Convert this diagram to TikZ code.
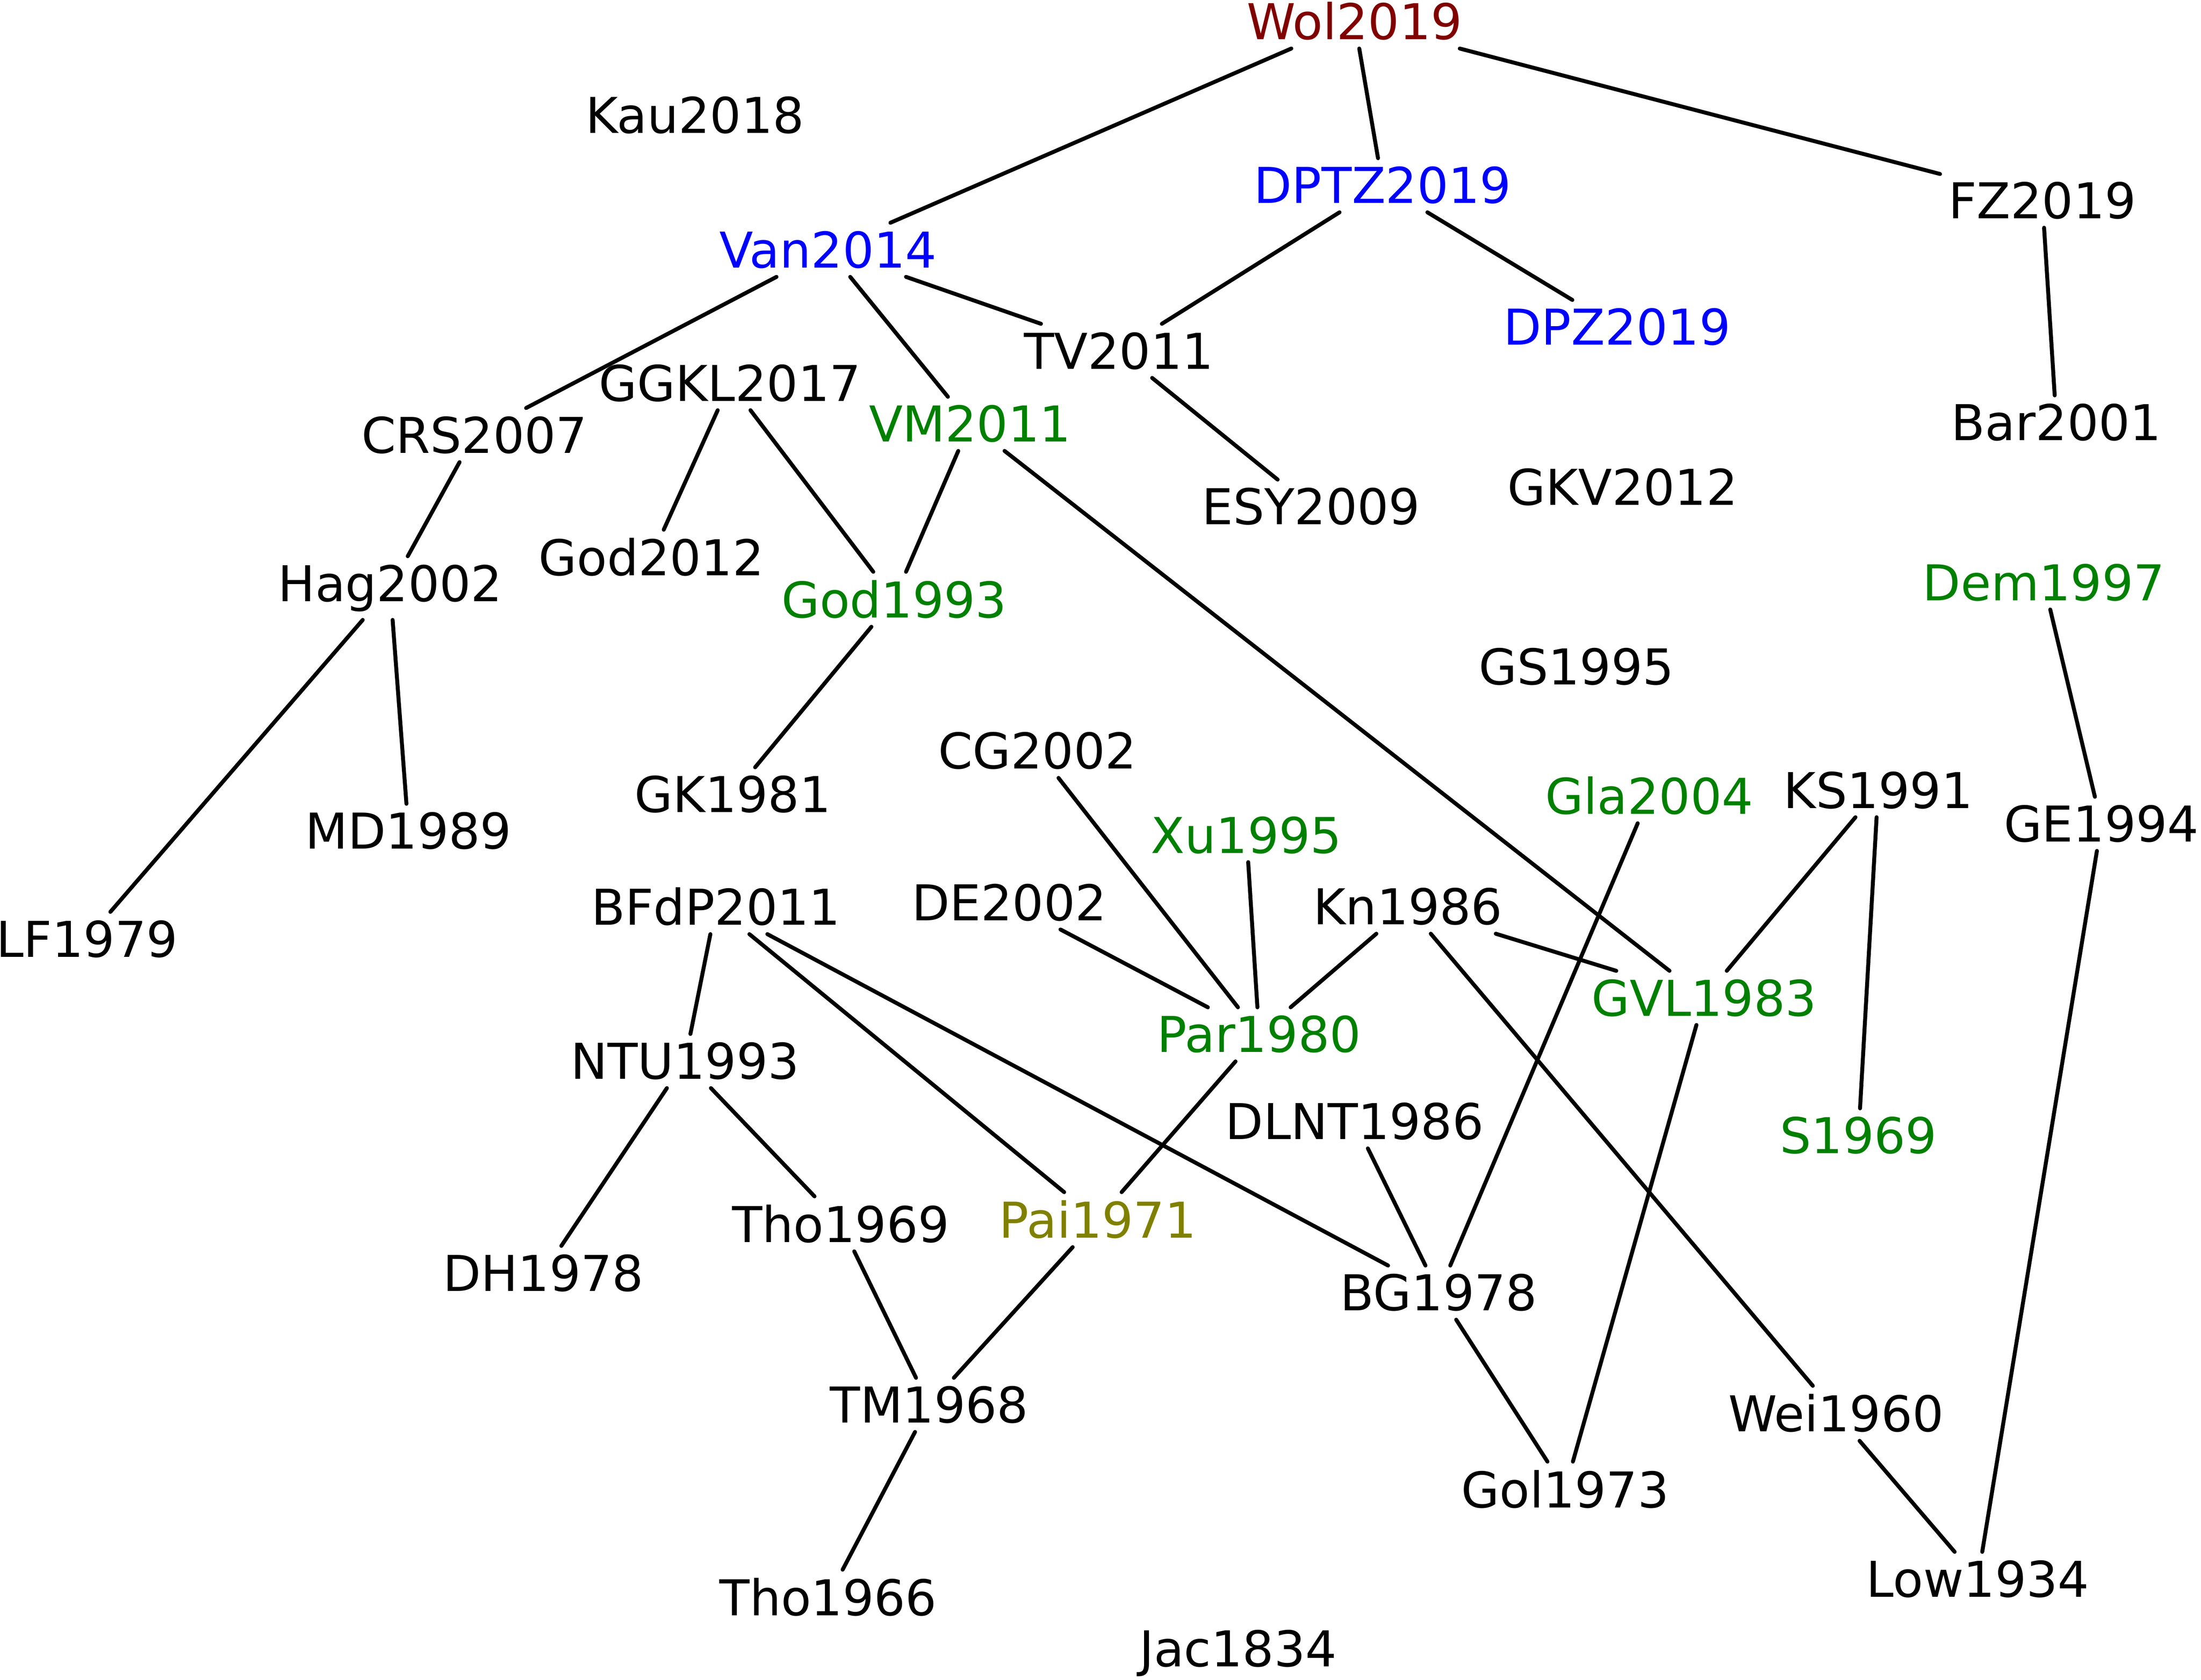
\documentclass[tikz,border=0pt]{standalone}
\usepackage{fontspec}
\setmainfont{DejaVu Sans}
\definecolor{refred}{RGB}{128,0,0}
\definecolor{refgreen}{RGB}{0,128,0}
\definecolor{refolive}{RGB}{128,128,0}
\begin{document}
\begin{tikzpicture}[
	x=0.01cm,
	y=-0.01cm,
	line join=round,
	line cap=round,
	every node/.style={font=\fontsize{10}{12}\selectfont, inner sep=1.5pt},
	blu/.style={text=blue},
	grn/.style={text=refgreen},
	]
\useasboundingbox (0,0) rectangle (1568,1197);
\node[text=refred] (wol) at (965,15) {Wol2019};
\node (kau) at (495,82) {Kau2018};
\node[blu] (dptz) at (985,132) {DPTZ2019};
\node (fz) at (1455,143) {FZ2019};
\node[blu] (van) at (590,178) {Van2014};
\node[blu] (dpz) at (1152,233) {DPZ2019};
\node (tv) at (797,250) {TV2011};
\node (ggkl) at (520,273) {GGKL2017};
\node (crs) at (338,310) {CRS2007};
\node[grn] (vm) at (691,302) {VM2011};
\node (bar) at (1465,301) {Bar2001};
\node (gkv) at (1156,347) {GKV2012};
\node (esy) at (934,361) {ESY2009};
\node (godb) at (464,397) {God2012};
\node (hag) at (278,419) {Hag2002};
\node[grn] (goda) at (637,427) {God1993};
\node[grn] (dem) at (1456,415) {Dem1997};
\node (gs) at (1123,475) {GS1995};
\node (cg) at (739,535) {CG2002};
\node (gk) at (522,566) {GK1981};
\node[grn] (gla) at (1175,567) {Gla2004};
\node (ks) at (1338,563) {KS1991};
\node (md) at (291,592) {MD1989};
\node[grn] (xu) at (888,595) {Xu1995};
\node (ge) at (1497,587) {GE1994};
\node (lf) at (62,669) {LF1979};
\node (bfdp) at (510,646) {BFdP2011};
\node (de) at (719,643) {DE2002};
\node (kn) at (1003,646) {Kn1986};
\node[grn] (gvl) at (1214,711) {GVL1983};
\node[grn] (par) at (897,737) {Par1980};
\node (ntu) at (488,756) {NTU1993};
\node (dlnt) at (965,799) {DLNT1986};
\node[grn] (s) at (1324,809) {S1969};
\node (thob) at (599,872) {Tho1969};
\node[text=refolive] (pai) at (782,869) {Pai1971};
\node (dh) at (387,907) {DH1978};
\node (bg) at (1025,921) {BG1978};
\node (tm) at (662,1001) {TM1968};
\node (wei) at (1308,1007) {Wei1960};
\node (gol) at (1115,1061) {Gol1973};
\node (low) at (1409,1125) {Low1934};
\node (thoa) at (590,1138) {Tho1966};
\node (jac) at (882,1178) {Jac1834};
\foreach \a/\b in {wol/van, wol/dptz, wol/fz, dptz/tv, dptz/dpz, fz/bar,
	van/crs, van/vm, van/tv, tv/esy, ggkl/godb, ggkl/goda, vm/goda, vm/gvl,
	crs/hag, hag/lf, hag/md, goda/gk, dem/ge, ge/low, cg/par, xu/par, de/par,
	kn/par, kn/gvl, kn/wei, gla/bg, ks/gvl, ks/s, gvl/gol, bfdp/ntu, bfdp/pai,
	bfdp/bg, ntu/dh, ntu/thob, par/pai, pai/tm, thob/tm, tm/thoa, dlnt/bg,
	bg/gol, wei/low}
	\draw[thick] (\a) -- (\b);
\end{tikzpicture}
\end{document}
